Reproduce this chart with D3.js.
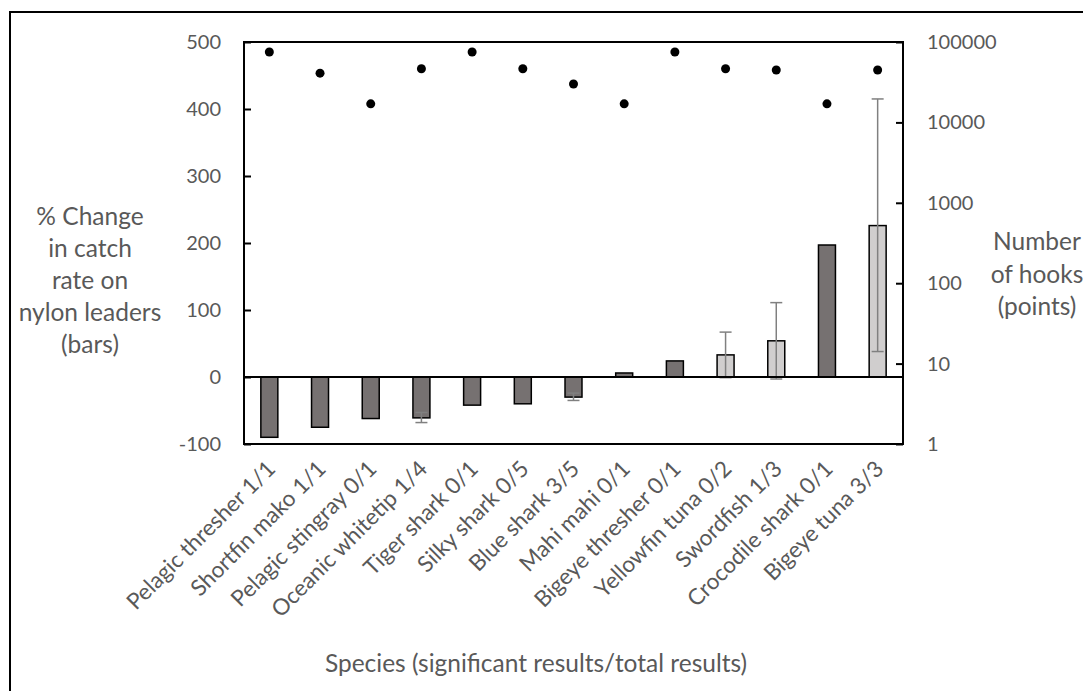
<!DOCTYPE html>
<html>
<head>
<meta charset="utf-8">
<script src="https://cdn.jsdelivr.net/npm/d3@7"></script>
<style>
  body { margin: 0; background: #fff; }
  text { font-family: Lato, 'Open Sans', sans-serif; fill: #595959; }
</style>
</head>
<body>
<svg width="1083" height="691"></svg>
<script>
// data
let species = ['Pelagic thresher 1/1', 'Shortfin mako 1/1', 'Pelagic stingray 0/1', 'Oceanic whitetip 1/4',
  'Tiger shark 0/1', 'Silky shark 0/5', 'Blue shark 3/5', 'Mahi mahi 0/1', 'Bigeye thresher 0/1',
  'Yellowfin tuna 0/2', 'Swordfish 1/3', 'Crocodile shark 0/1', 'Bigeye tuna 3/3'];
let pctChange = [-90, -75, -62, -61, -42, -40, -30, 6, 24, 33, 54, 197, 226];
let errLow = [null, null, null, -68, null, null, -35, null, null, -1, -3, null, 38];
let errHigh = [null, null, null, -53, null, null, -24, null, null, 67, 111, null, 415];
let hooks = [75000, 41000, 17000, 46500, 75000, 46500, 30000, 17000, 75000, 46500, 44800, 17000, 44800];
let shade = ['dark', 'dark', 'dark', 'dark', 'dark', 'dark', 'dark', 'dark', 'dark', 'light', 'light', 'dark', 'light'];
let leftTicks = [-100, 0, 100, 200, 300, 400, 500];
let rightTicks = [1, 10, 100, 1000, 10000, 100000];

let svg = d3.select('svg');
let plot = { left: 244, right: 903, top: 42, bottom: 444 };

let colors = { dark: '#767171', light: '#d0cece' };

// outer chart border
svg.append('rect')
  .attr('x', 10).attr('y', 12)
  .attr('width', 1100).attr('height', 700)
  .attr('fill', 'none').attr('stroke', '#000').attr('stroke-width', 2);

let x = d3.scaleBand()
  .domain(species)
  .range([plot.left, plot.right])
  .paddingInner(0.665)
  .paddingOuter(0.3325);

let y = d3.scaleLinear().domain([-100, 500]).range([plot.bottom, plot.top]);
let y2 = d3.scaleLog().domain([1, 100000]).range([plot.bottom, plot.top]);

let tickFont = '20px';
let catFont = '22.5px';
let titleFont = '24.5px';

// left axis (plain hyphen for negatives, like the original)
let yAxis = svg.append('g')
  .attr('transform', `translate(${plot.left},0)`)
  .call(d3.axisLeft(y).tickValues(leftTicks).tickFormat(d => String(d)).tickSize(-7).tickPadding(23));
yAxis.select('.domain').remove();
yAxis.selectAll('line').attr('stroke', '#000').attr('stroke-width', 2);
yAxis.selectAll('text').style('font-size', tickFont).attr('fill', '#595959');

// right axis
let y2Axis = svg.append('g')
  .attr('transform', `translate(${plot.right},0)`)
  .call(d3.axisRight(y2).tickValues(rightTicks).tickFormat(d => String(d)).tickSize(-7).tickPadding(24));
y2Axis.select('.domain').remove();
y2Axis.selectAll('line').attr('stroke', '#000').attr('stroke-width', 2);
y2Axis.selectAll('text').style('font-size', tickFont).attr('fill', '#595959');

// bars
let rows = species.map((s, i) => ({ s, v: pctChange[i], lo: errLow[i], hi: errHigh[i], h: hooks[i], c: shade[i] }));

svg.append('g')
  .selectAll('rect')
  .data(rows)
  .join('rect')
  .attr('x', d => x(d.s))
  .attr('y', d => y(Math.max(0, d.v)))
  .attr('width', x.bandwidth())
  .attr('height', d => Math.abs(y(d.v) - y(0)))
  .attr('fill', d => colors[d.c])
  .attr('stroke', '#000')
  .attr('stroke-width', 1.5);

// error bars
let err = svg.append('g')
  .selectAll('g')
  .data(rows.filter(d => d.lo !== null))
  .join('g')
  .attr('stroke', '#808080')
  .attr('stroke-width', 1.5);

err.append('line')
  .attr('x1', d => x(d.s) + x.bandwidth() / 2)
  .attr('x2', d => x(d.s) + x.bandwidth() / 2)
  .attr('y1', d => y(d.lo))
  .attr('y2', d => y(d.hi));
['lo', 'hi'].forEach(k => {
  err.append('line')
    .attr('x1', d => x(d.s) + x.bandwidth() / 2 - 6)
    .attr('x2', d => x(d.s) + x.bandwidth() / 2 + 6)
    .attr('y1', d => y(d[k]))
    .attr('y2', d => y(d[k]));
});

// plot frame and zero line
svg.append('rect')
  .attr('x', plot.left).attr('y', plot.top)
  .attr('width', plot.right - plot.left).attr('height', plot.bottom - plot.top)
  .attr('fill', 'none').attr('stroke', '#000').attr('stroke-width', 2);
svg.append('line')
  .attr('x1', plot.left).attr('x2', plot.right)
  .attr('y1', y(0)).attr('y2', y(0))
  .attr('stroke', '#000').attr('stroke-width', 2);

// hook counts as points
svg.append('g')
  .selectAll('circle')
  .data(rows)
  .join('circle')
  .attr('cx', d => x(d.s) + x.bandwidth() / 2)
  .attr('cy', d => y2(d.h))
  .attr('r', 4.5)
  .attr('fill', '#000');

// category labels, rotated
svg.append('g')
  .selectAll('text')
  .data(species)
  .join('text')
  .attr('transform', d => `translate(${x(d) + x.bandwidth() / 2 - 4},${plot.bottom + 15}) rotate(-45)`)
  .attr('text-anchor', 'end')
  .attr('dy', '0.71em')
  .style('font-size', catFont)
  .text(d => d);

// axis titles
function multiline(lines, cx, y0, step) {
  let t = svg.append('text').attr('text-anchor', 'middle').style('font-size', titleFont);
  lines.forEach((l, i) => t.append('tspan').attr('x', cx).attr('y', y0 + i * step).text(l));
}
multiline(['% Change', 'in catch', 'rate on', 'nylon leaders', '(bars)'], 90, 225, 32);
multiline(['Number', 'of hooks', '(points)'], 1037, 250, 32.5);

svg.append('text')
  .attr('x', 536).attr('y', 672)
  .attr('text-anchor', 'middle')
  .style('font-size', titleFont)
  .text('Species (significant results/total results)');
</script>
</body>
</html>
